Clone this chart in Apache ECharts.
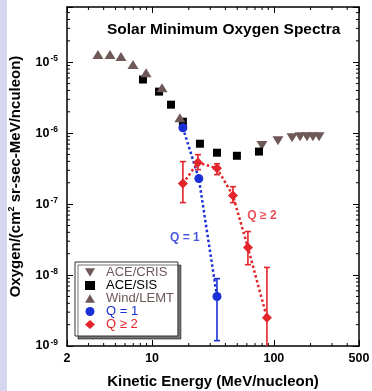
<!DOCTYPE html>
<html>
<head>
<meta charset="utf-8">
<script src="https://cdn.jsdelivr.net/npm/echarts@6/dist/echarts.min.js"></script>
<style>html,body{margin:0;padding:0;background:#fff}#c{width:372px;height:391px}</style>
</head>
<body>
<div id="c"></div>
<script>
// ---- data (energy in MeV/nucleon, flux in /(cm2 sr sec MeV/nucleon)) ----
const crisE = [79.8, 108, 141, 164, 187, 209, 235];
const crisF = [6.7e-7, 7.8e-7, 8.6e-7, 8.9e-7, 8.9e-7, 8.9e-7, 8.9e-7];

const sisE = [8.41, 11.4, 14.3, 17.9, 24.7, 34.1, 49.7, 75.4];
const sisF = [5.7e-6, 3.85e-6, 2.52e-6, 1.45e-6, 7.1e-7, 5.3e-7, 4.8e-7, 5.5e-7];

const windE = [3.59, 4.51, 5.55, 6.97, 8.92, 12.06, 16.9];
const windF = [1.28e-5, 1.28e-5, 1.2e-5, 9.3e-6, 7.1e-6, 4.37e-6, 1.65e-6];

const q1E = [17.9, 24.2, 34.1];
const q1F = [1.19e-6, 2.29e-7, 4.98e-9];
const q1ErrE = [34.1];
const q1ErrLo = [1.19e-9];
const q1ErrHi = [8.9e-9];

const q2E = [17.9, 23.8, 34.1, 46.1, 61.2, 87.7];
const q2F = [1.95e-7, 3.85e-7, 3.2e-7, 1.32e-7, 2.44e-8, 2.5e-9];
const q2ErrLo = [1.05e-7, 3.06e-7, 2.6e-7, 1.05e-7, 1.4e-8, 1e-10];
const q2ErrHi = [3.97e-7, 4.98e-7, 3.7e-7, 1.76e-7, 4.1e-8, 1.28e-8];

const xTickMinor = [3, 4, 5, 6, 7, 8, 9, 20, 30, 40, 50, 60, 70, 80, 90, 200, 300, 400];
const yDecades = [1e-9, 1e-8, 1e-7, 1e-6, 1e-5];
const yMinorMult = [2, 3, 4, 5, 6, 7, 8, 9];

const annotText = ['Q = 1', 'Q \u2265 2'];
const annotE = [18.6, 79.8];
const annotF = [3.37e-8, 6.9e-8];

const legendNames = ['ACE/CRIS', 'ACE/SIS', 'Wind/LEMT', 'Q = 1', 'Q \u2265 2'];

// ---- style ----
const FONT = '"Liberation Sans", Arial, Helvetica, sans-serif';
const brown = '#6e5858';
const blue = '#1b2fd6';
const red = '#e3242b';
const invTri = 'path://M0,0 L10,0 L5,8.5 Z';
const upTri = 'path://M5,0 L10,8.5 L0,8.5 Z';
const xMin = 2, xMax = 500, yMin = 1e-9, yMax = 6e-5;

const pairs = (xs, ys) => xs.map((x, i) => [x, ys[i]]);

const yMinor = [];
yDecades.forEach(d => yMinorMult.forEach(m => { const v = m * d; if (v < yMax) yMinor.push(v); }));

function supLabel(v) {
  const e = Math.round(Math.log10(v));
  if (Math.abs(v / Math.pow(10, e) - 1) > 1e-6 || e > -5) return '';
  return '{b|10}{s|' + e + '}';
}

function errRender(color) {
  return function (params, api) {
    const x = api.value(0), lo = api.value(1), hi = api.value(2);
    const t = api.coord([x, hi]), b = api.coord([x, lo]);
    const w = 3, st = { stroke: color, lineWidth: 1.6 };
    return { type: 'group', children: [
      { type: 'line', shape: { x1: t[0], y1: t[1], x2: b[0], y2: b[1] }, style: st },
      { type: 'line', shape: { x1: t[0] - w, y1: t[1], x2: t[0] + w, y2: t[1] }, style: st },
      { type: 'line', shape: { x1: b[0] - w, y1: b[1], x2: b[0] + w, y2: b[1] }, style: st }
    ]};
  };
}

function minorXRender(params, api) {
  const cs = params.coordSys;
  const px = api.coord([api.value(0), yMin])[0];
  const st = { stroke: '#000', lineWidth: 1 };
  return { type: 'group', children: [
    { type: 'line', shape: { x1: px, y1: cs.y + cs.height, x2: px, y2: cs.y + cs.height - 3 }, style: st },
    { type: 'line', shape: { x1: px, y1: cs.y, x2: px, y2: cs.y + 3 }, style: st }
  ]};
}
function minorYRender(params, api) {
  const cs = params.coordSys;
  const py = api.coord([xMin, api.value(1)])[1];
  const st = { stroke: '#000', lineWidth: 1 };
  return { type: 'group', children: [
    { type: 'line', shape: { x1: cs.x, y1: py, x2: cs.x + 3, y2: py }, style: st },
    { type: 'line', shape: { x1: cs.x + cs.width, y1: py, x2: cs.x + cs.width - 3, y2: py }, style: st }
  ]};
}

const axisCommon = {
  type: 'log', logBase: 10,
  axisLine: { show: true, onZero: false, lineStyle: { color: '#000', width: 1.5 } },
  axisTick: { show: true, inside: true, length: 6, lineStyle: { color: '#000', width: 1 } },
  splitLine: { show: false },
  minorTick: { show: false },
  nameMoveOverlap: false
};

const chart = echarts.init(document.getElementById('c'));
chart.setOption({
  animation: false,
  backgroundColor: '#fff',
  textStyle: { fontFamily: FONT },
  graphic: [
    { type: 'rect', left: 0, top: 0, shape: { width: 7, height: 391 }, style: { fill: '#d6d6ee' }, z: 0 }
  ],
  title: {
    text: 'Solar Minimum Oxygen Spectra',
    left: 102, top: 17,
    textStyle: { fontFamily: FONT, fontSize: 15.5, fontWeight: 'bold', color: '#000' }
  },
  grid: { left: 67, right: 13, top: 7, bottom: 45, outerBoundsMode: 'none' },
  xAxis: [
    Object.assign({}, axisCommon, {
      position: 'bottom', min: xMin, max: xMax,
      name: 'Kinetic Energy (MeV/nucleon)', nameLocation: 'middle', nameGap: 28,
      nameTextStyle: { fontFamily: FONT, fontSize: 15, fontWeight: 'bold', color: '#000' },
      axisLabel: { show: true, margin: 6, fontFamily: FONT, fontSize: 12.5, fontWeight: 'bold', color: '#000',
        showMinLabel: true, showMaxLabel: true, hideOverlap: false }
    }),
    Object.assign({}, axisCommon, { position: 'top', min: xMin, max: xMax, axisLabel: { show: false } })
  ],
  yAxis: [
    Object.assign({}, axisCommon, {
      position: 'left', min: yMin, max: yMax,
      name: 'Oxygen/(cm{sup|2} sr-sec-MeV/nculeon)', nameLocation: 'middle', nameGap: 42,
      nameTextStyle: { fontFamily: FONT, fontSize: 15, fontWeight: 'bold', color: '#000',
        rich: { sup: { fontFamily: FONT, fontSize: 9, fontWeight: 'bold', color: '#000', padding: [0, 0, 9, 0] } } },
      axisLabel: { show: true, margin: 9, fontFamily: FONT, color: '#000', formatter: supLabel, hideOverlap: false,
        rich: {
          b: { fontFamily: FONT, fontSize: 12.5, fontWeight: 'bold', color: '#000' },
          s: { fontFamily: FONT, fontSize: 8.5, fontWeight: 'bold', color: '#000', padding: [0, 0, 7, 1] }
        } }
    }),
    Object.assign({}, axisCommon, { position: 'right', min: yMin, max: yMax, axisLabel: { show: false } })
  ],
  legend: {
    orient: 'vertical', left: 75, top: 262,
    padding: [4, 4, 5, 10],
    itemGap: 0, itemWidth: 10, itemHeight: 9,
    backgroundColor: '#fff', borderColor: '#333', borderWidth: 1,
    shadowColor: 'rgba(0,0,0,0.55)', shadowOffsetX: 3, shadowOffsetY: 3, shadowBlur: 0,
    textStyle: { fontFamily: FONT, fontSize: 13, lineHeight: 13, padding: [0, 0, 0, 6] },
    selectedMode: false,
    data: [
      { name: legendNames[0], icon: invTri, itemStyle: { opacity: 1 }, textStyle: { color: brown } },
      { name: legendNames[1], icon: 'rect', itemStyle: { opacity: 1 }, textStyle: { color: '#000' } },
      { name: legendNames[2], icon: upTri, itemStyle: { opacity: 1 }, textStyle: { color: brown } },
      { name: legendNames[3], icon: 'circle', textStyle: { color: blue } },
      { name: legendNames[4], icon: 'diamond', textStyle: { color: red } }
    ]
  },
  series: [
    { type: 'custom', name: 'xminor', data: xTickMinor.map(v => [v, yMin]), renderItem: minorXRender, silent: true, z: 1, clip: false },
    { type: 'custom', name: 'yminor', data: yMinor.map(v => [xMin, v]), renderItem: minorYRender, silent: true, z: 1, clip: false },
    { type: 'custom', name: 'q1err', data: q1ErrE.map((x, i) => [x, q1ErrLo[i], q1ErrHi[i]]), renderItem: errRender(blue), z: 3, clip: true, silent: true },
    { type: 'custom', name: 'q2err', data: q2E.map((x, i) => [x, q2ErrLo[i], q2ErrHi[i]]), renderItem: errRender(red), z: 3, clip: true, silent: true },
    { type: 'scatter', name: legendNames[0], data: pairs(crisE, crisF), symbol: invTri, symbolSize: [11, 9], itemStyle: { color: brown, opacity: 1 }, z: 4 },
    { type: 'scatter', name: legendNames[1], data: pairs(sisE, sisF), symbol: 'rect', symbolSize: 8, itemStyle: { color: '#000', opacity: 1 }, z: 4 },
    { type: 'scatter', name: legendNames[2], data: pairs(windE, windF), symbol: upTri, symbolSize: [11, 9], itemStyle: { color: brown, opacity: 1 }, z: 4 },
    { type: 'line', name: legendNames[3], data: pairs(q1E, q1F), symbol: 'circle', symbolSize: 9, showSymbol: true,
      lineStyle: { color: blue, width: 2.5, type: 'dotted' }, itemStyle: { color: blue }, z: 5 },
    { type: 'line', name: legendNames[4], data: pairs(q2E, q2F), symbol: 'diamond', symbolSize: 10, showSymbol: true,
      lineStyle: { color: red, width: 2.5, type: 'dotted' }, itemStyle: { color: red }, z: 5 },
    { type: 'scatter', name: 'annot', symbolSize: 0, silent: true, z: 6,
      data: annotText.map((t, i) => ({ value: [annotE[i], annotF[i]],
        label: { show: true, position: 'inside', formatter: t, fontFamily: FONT, fontSize: 12, fontWeight: 'bold', color: i === 0 ? blue : red } })) }
  ]
});
</script>
</body>
</html>
